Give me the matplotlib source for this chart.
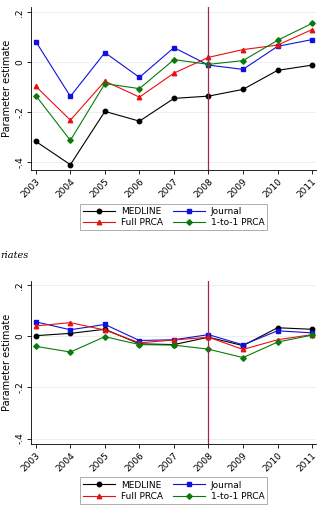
import matplotlib
matplotlib.use('Agg')
import matplotlib.pyplot as plt

# data
years = [2003, 2004, 2005, 2006, 2007, 2008, 2009, 2010, 2011]

top_medline = [-0.316, -0.409, -0.196, -0.235, -0.144, -0.135, -0.108, -0.032, -0.011]
top_journal = [0.083, -0.136, 0.039, -0.060, 0.059, -0.011, -0.028, 0.064, 0.091]
top_full = [-0.096, -0.231, -0.075, -0.139, -0.043, 0.020, 0.051, 0.069, 0.131]
top_one = [-0.133, -0.312, -0.085, -0.105, 0.011, -0.008, 0.007, 0.088, 0.156]

bot_medline = [0.003, 0.012, 0.028, -0.029, -0.032, -0.003, -0.036, 0.034, 0.028]
bot_journal = [0.057, 0.026, 0.047, -0.016, -0.013, 0.007, -0.033, 0.022, 0.014]
bot_full = [0.041, 0.054, 0.025, -0.025, -0.014, -0.003, -0.051, -0.013, 0.007]
bot_one = [-0.039, -0.061, -0.001, -0.032, -0.034, -0.050, -0.083, -0.022, 0.005]

yticks = [-0.4, -0.2, 0, 0.2]
ytick_labels = ['-.4', '-.2', '0', '.2']

series_style = [
    ('MEDLINE', 'black', 'o'),
    ('Journal', '#1010E0', 's'),
    ('Full PRCA', '#E81010', '^'),
    ('1-to-1 PRCA', '#0A7A0A', 'D'),
]


def draw_panel(ax, values, ylim):
    handles = []
    for (label, color, marker), vals in zip(series_style, values):
        h, = ax.plot(years, vals, color=color, marker=marker,
                     markersize=3.2 if marker != 'D' else 2.8,
                     linewidth=0.8, label=label)
        handles.append(h)
    ax.axvline(2008, color='#A3264F', linewidth=0.9)
    ax.set_xlim(2002.86, 2011.11)
    ax.set_ylim(*ylim)
    ax.set_yticks(yticks)
    ax.set_yticklabels(ytick_labels, rotation=90, va='center', fontsize=6.5)
    ax.set_xticks(years)
    ax.set_xticklabels([str(y) for y in years], rotation=45, ha='right',
                       rotation_mode='anchor', fontsize=6.5)
    ax.tick_params(length=3, width=0.6, pad=2)
    ax.grid(True, axis='y', color='#E6EEF0', linewidth=0.6)
    ax.set_axisbelow(True)
    for side in ['top', 'right']:
        ax.spines[side].set_visible(False)
    for side in ['left', 'bottom']:
        ax.spines[side].set_linewidth(0.6)
    ax.set_ylabel('Parameter estimate', fontsize=7, labelpad=2)
    # matplotlib fills legend columns first, so reorder to get row-wise layout
    order = [0, 2, 1, 3]
    leg = ax.legend([handles[i] for i in order],
                    [series_style[i][0] for i in order],
                    loc='upper center', bbox_to_anchor=(0.5, -0.178), ncol=2,
                    fontsize=6.5, fancybox=False, edgecolor='#888888',
                    handlelength=3.6, columnspacing=1.1, borderpad=0.35,
                    labelspacing=0.25, handletextpad=0.6)
    leg.get_frame().set_linewidth(0.6)


fig = plt.figure(figsize=(3.21, 5.05), dpi=100)
ax1 = fig.add_axes([0.0966, 0.663, 0.8874, 0.323])
ax2 = fig.add_axes([0.0966, 0.121, 0.8874, 0.323])

draw_panel(ax1, [top_medline, top_journal, top_full, top_one], (-0.431, 0.221))
draw_panel(ax2, [bot_medline, bot_journal, bot_full, bot_one], (-0.421, 0.218))

fig.text(0.0, 1 - 256 / 505, 'riates', style='italic', family='serif',
         fontsize=7, va='center', ha='left')

fig.savefig('out.png', dpi=100, facecolor='white')
